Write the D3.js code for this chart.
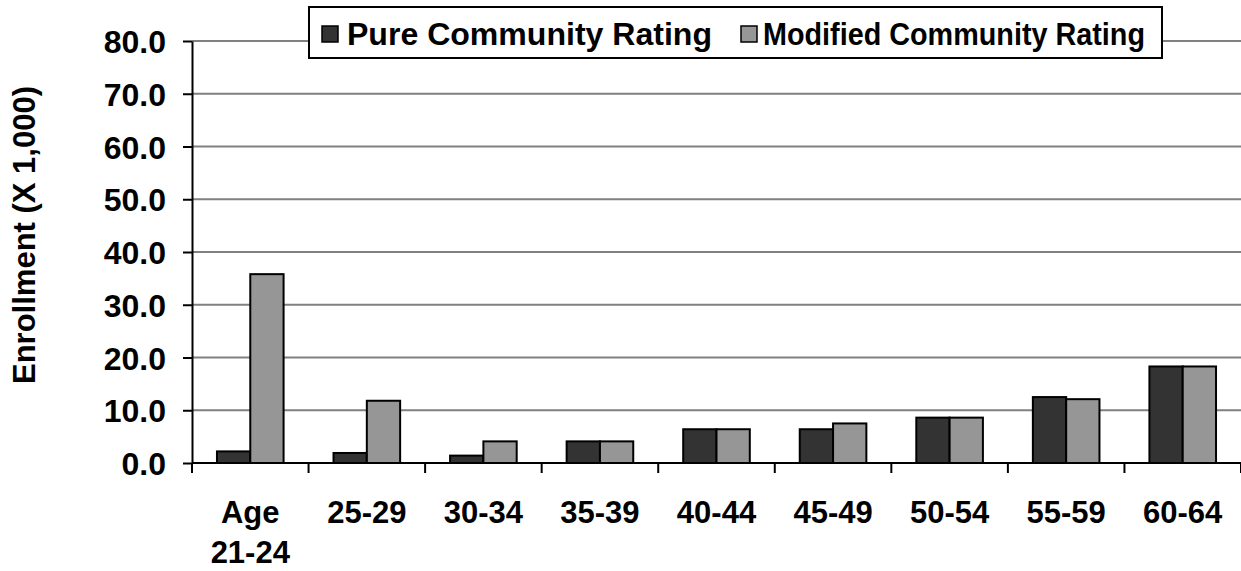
<!DOCTYPE html>
<html>
<head>
<meta charset="utf-8">
<script src="https://cdn.jsdelivr.net/npm/d3@7"></script>
<style>
  html, body { margin: 0; padding: 0; background: #fff; }
  svg { display: block; }
  text { font-family: Arial, "Liberation Sans", sans-serif; font-weight: bold; fill: #000; }
</style>
</head>
<body>
<svg id="chart" width="1241" height="571"></svg>
<script>
// Enrollment by age band under two rating schemes (thousands)
const ageGroups = ["Age 21-24", "25-29", "30-34", "35-39", "40-44", "45-49", "50-54", "55-59", "60-64"];
const pureRating = [2.2, 1.9, 1.4, 4.1, 6.4, 6.4, 8.6, 12.5, 18.3];
const modifiedRating = [35.8, 11.8, 4.1, 4.1, 6.4, 7.5, 8.6, 12.1, 18.3];
const seriesNames = ["Pure Community Rating", "Modified Community Rating"];
const seriesColors = ["#333333", "#969696"];
const yTicks = [0, 10, 20, 30, 40, 50, 60, 70, 80];

const svg = d3.select("#chart");
const plotLeft = 192, plotRight = 1241, plotTop = 41, plotBottom = 463;

const x = d3.scaleBand().domain(ageGroups).range([plotLeft, plotRight]).paddingInner(0).paddingOuter(0);
const y = d3.scaleLinear().domain([0, 80]).range([plotBottom, plotTop]);

const barW = x.bandwidth() / 3.5;
const groupOffset = (x.bandwidth() - 2 * barW) / 2;

// horizontal gridlines
svg.append("g")
  .selectAll("line")
  .data(yTicks.filter(d => d > 0))
  .join("line")
  .attr("x1", plotLeft).attr("x2", plotRight)
  .attr("y1", d => y(d)).attr("y2", d => y(d))
  .attr("stroke", "#808080")
  .attr("stroke-width", 2);

// bars
const series = [pureRating, modifiedRating];
series.forEach((vals, si) => {
  svg.append("g")
    .selectAll("rect")
    .data(vals)
    .join("rect")
    .attr("x", (d, i) => x(ageGroups[i]) + groupOffset + si * barW)
    .attr("y", d => y(d))
    .attr("width", barW)
    .attr("height", d => y(0) - y(d))
    .attr("fill", seriesColors[si])
    .attr("stroke", "#000")
    .attr("stroke-width", 2);
});

// y axis
const yAxis = svg.append("g")
  .attr("transform", `translate(${plotLeft},0)`)
  .call(d3.axisLeft(y).tickValues(yTicks).tickFormat(d3.format(".1f")).tickSize(9).tickSizeOuter(0).tickPadding(17));
yAxis.select(".domain").attr("stroke", "#000").attr("stroke-width", 2);
yAxis.selectAll(".tick line").attr("stroke", "#000").attr("stroke-width", 2);
yAxis.selectAll(".tick text").attr("font-size", 32).attr("font-family", "Arial, 'Liberation Sans', sans-serif").attr("font-weight", "bold").attr("dy", "0.36em");

// x axis baseline and boundary ticks
svg.append("line")
  .attr("x1", plotLeft).attr("x2", plotRight)
  .attr("y1", y(0)).attr("y2", y(0))
  .attr("stroke", "#000").attr("stroke-width", 2);
const boundaries = ageGroups.map(g => x(g)).concat([plotRight]);
svg.append("g")
  .selectAll("line")
  .data(boundaries)
  .join("line")
  .attr("x1", d => d).attr("x2", d => d)
  .attr("y1", y(0)).attr("y2", y(0) + 10)
  .attr("stroke", "#000").attr("stroke-width", 2);

// category labels (first one wraps onto two lines)
const labels = svg.append("g");
ageGroups.forEach(g => {
  const cx = x(g) + x.bandwidth() / 2;
  const t = labels.append("text")
    .attr("x", cx).attr("y", 523)
    .attr("text-anchor", "middle")
    .attr("font-size", 31);
  const parts = g === "Age 21-24" ? ["Age", "21-24"] : [g];
  parts.forEach((p, k) => {
    t.append("tspan").attr("x", cx).attr("dy", k === 0 ? 0 : 40).text(p);
  });
});

// y axis title
svg.append("text")
  .attr("transform", `translate(35,235) rotate(-90)`)
  .attr("text-anchor", "middle")
  .attr("font-size", 31)
  .text("Enrollment (X 1,000)");

// legend
const legend = svg.append("g");
legend.append("rect")
  .attr("x", 309).attr("y", 7).attr("width", 853).attr("height", 51)
  .attr("fill", "#fff").attr("stroke", "#000").attr("stroke-width", 2);
const legendItems = [
  { sx: 322, tx: 347, len: 365 },
  { sx: 741, tx: 763, len: 382 }
];
legendItems.forEach((it, i) => {
  legend.append("rect")
    .attr("x", it.sx).attr("y", 26).attr("width", 16).attr("height", 16)
    .attr("fill", seriesColors[i]).attr("stroke", "#000").attr("stroke-width", 1.5);
  legend.append("text")
    .attr("x", it.tx).attr("y", 45)
    .attr("font-size", 31)
    .attr("textLength", it.len)
    .attr("lengthAdjust", "spacingAndGlyphs")
    .text(seriesNames[i]);
});
</script>
</body>
</html>
